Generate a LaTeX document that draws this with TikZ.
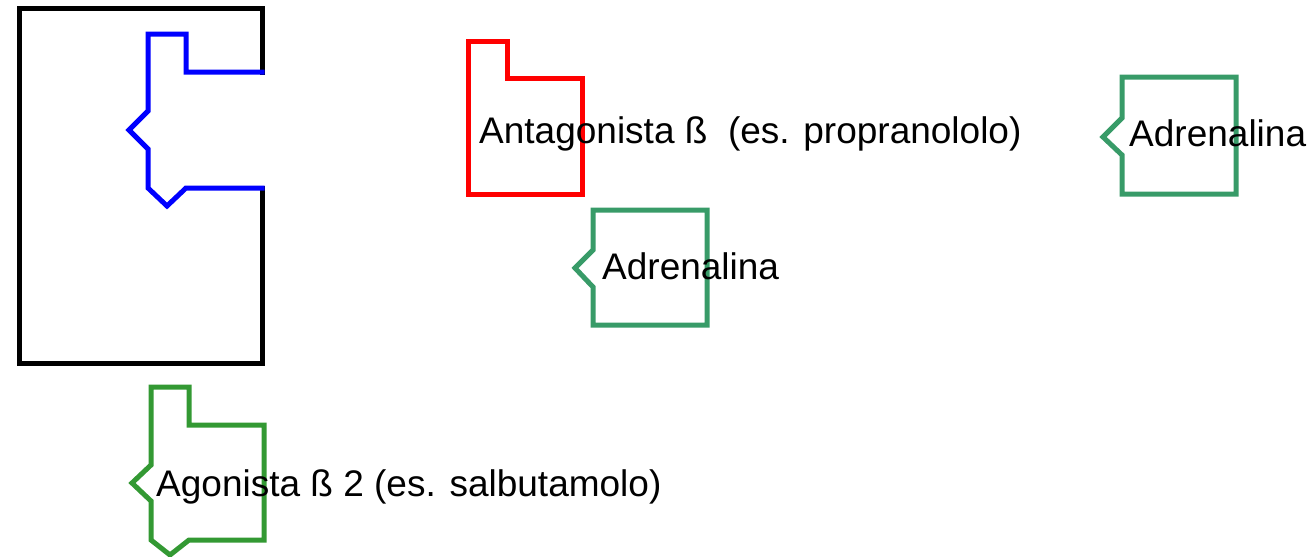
\documentclass[tikz,border=0pt]{standalone}
\usepackage{fontspec}
\setmainfont{Liberation Sans}
\definecolor{adrgreen}{RGB}{56,155,104}
\definecolor{agogreen}{RGB}{51,153,51}
\begin{document}
\begin{tikzpicture}[x=1pt,y=-1pt,
  shape line/.style={line width=5pt,line join=miter,line cap=rect},
  lbl/.style={inner sep=0pt,anchor=base west,font=\fontsize{37}{44}\selectfont}]
\useasboundingbox (0,0) rectangle (1315,557);
% receptor
\draw[shape line,black] (262,72) -- (262,8) -- (19,8) -- (19,363) -- (262,363) -- (262,188);
\draw[shape line,blue] (262,72) -- (186,72) -- (186,34) -- (148,34) -- (148,111) -- (129,130) -- (148,149) -- (148,188) -- (167,206) -- (186,188) -- (262,188);
% antagonist
\draw[shape line,red] (468,194) -- (468,41) -- (507,41) -- (507,78) -- (582,78) -- (582,194) -- cycle;
\node[lbl] (antag) at (479,143) {Antagonista ß\ \ (es. propranololo)};
% adrenaline 1
\draw[shape line,adrgreen] (593,210) -- (707,210) -- (707,325) -- (593,325) -- (593,287) -- (575,268) -- (593,250) -- cycle;
\node[lbl] (adr1) at (602,279) {Adrenalina};
% adrenaline 2
\draw[shape line,adrgreen] (1122,77) -- (1236,77) -- (1236,194) -- (1122,194) -- (1122,155) -- (1103,137) -- (1122,118) -- cycle;
\node[lbl] (adr2) at (1129,146) {Adrenalina};
% agonist
\draw[shape line,agogreen] (151,387) -- (189,387) -- (189,425) -- (264,425) -- (264,540) -- (189,540) -- (170,555) -- (151,540) -- (151,501) -- (132,483) -- (151,465) -- cycle;
\node[lbl] (agon) at (156,496) {Agonista ß 2 (es. salbutamolo)};
\end{tikzpicture}
\end{document}
